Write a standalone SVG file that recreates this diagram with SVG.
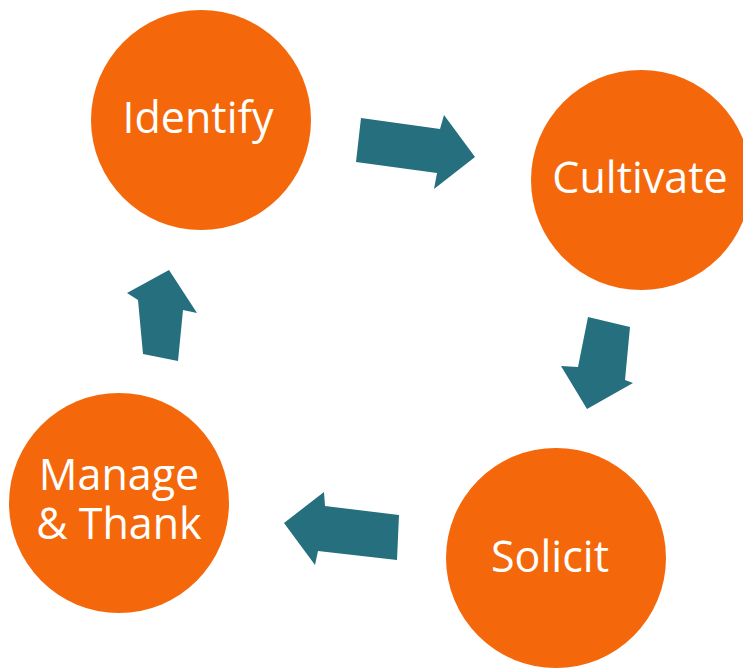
<svg xmlns="http://www.w3.org/2000/svg" width="743" height="669" viewBox="0 0 743 669">
  <style>
    .step { fill: #F4680B; }
    .label { fill: #FFFFFF; font-family: "Open Sans", "Noto Sans", "DejaVu Sans", sans-serif; font-size: 43px; text-anchor: middle; }
    .flow { fill: #256F7E; }
  </style>
  <rect width="743" height="669" fill="#FFFFFF"/>

  <!-- block arrows between the stages -->
  <g id="connectors">
    <polygon class="flow" points="361,118 440,129 444,115 475,157 434,189 437,173 356,162"/>
    <polygon class="flow" points="588,317 630,327 625,380 633,383 587,409 561,366 578,367"/>
    <polygon class="flow" points="284,523 324,492 325,506 399,515 397,560 318,551 315,565"/>
    <polygon class="flow" points="169,270 197,313 183,310 178,361 143,354 138,300 127,293"/>
  </g>

  <g id="identify">
    <circle class="step" cx="201" cy="120" r="110"/>
    <text class="label" x="198" y="133">Identify</text>
  </g>
  <g id="cultivate">
    <circle class="step" cx="641" cy="180" r="110"/>
    <text class="label" x="640" y="193">Cultivate</text>
  </g>
  <g id="solicit">
    <circle class="step" cx="556" cy="558" r="110"/>
    <text class="label" x="550" y="572">Solicit</text>
  </g>
  <g id="manage-thank">
    <circle class="step" cx="119" cy="503" r="110"/>
    <text class="label" x="119" y="490">Manage</text>
    <text class="label" x="119" y="539">&amp; Thank</text>
  </g>
</svg>
